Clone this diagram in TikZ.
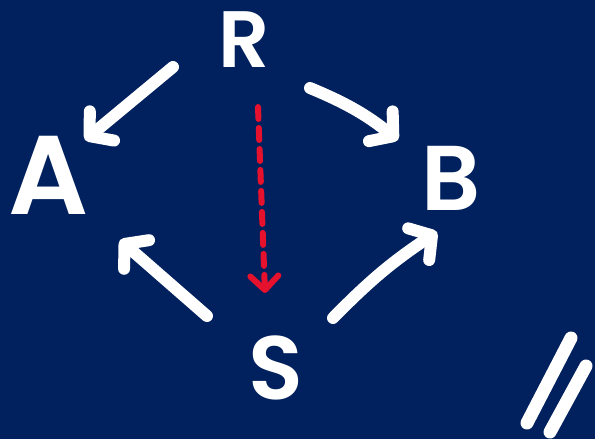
\documentclass[tikz,border=0pt]{standalone}
\usepackage{fontspec}
\setmainfont{Poppins}[BoldFont={* SemiBold}]
\usetikzlibrary{arrows.meta}
\definecolor{navy}{HTML}{01205E}
\definecolor{marker}{HTML}{E5112D}
\begin{document}
\begin{tikzpicture}[x=1pt,y=-1pt,
  lbl/.style={text=white,inner sep=0pt,font=\bfseries\fontsize{#1}{#1}\selectfont},
  wline/.style={draw=white,line width=12pt,line cap=round,line join=round},
  warrow/.style={wline,-{Straight Barb[length=16pt,width=38pt,line cap=round,line join=round]}},
  rarrow/.style={draw=marker,line width=6pt,line cap=round,line join=round,
    dash pattern=on 12pt off 9pt,
    -{Straight Barb[length=14pt,width=28pt,line cap=round,line join=round]}}]
\fill[navy] (0,0) rectangle (595,439);
\useasboundingbox (0,0) rectangle (595,439);
% letters
\node[lbl=80] (R) at (244,40) {R};
\node[lbl=112] (A) at (49,175) {A};
\node[lbl=92] (B) at (451,178) {B};
\node[lbl=90] (S) at (276,368) {S};
% connector ends
\coordinate (ra0) at (173,67);  \coordinate (ra1) at (85,140);
\coordinate (rb0) at (310,88);  \coordinate (rb1) at (398,140);
\coordinate (sa0) at (207,316); \coordinate (sa1) at (120,240);
\coordinate (sb0) at (333,318); \coordinate (sb1) at (437,232);
\coordinate (rs0) at (258,107); \coordinate (rs1) at (265,293);
\draw[warrow] (ra0) -- (ra1);
\draw[warrow] (rb0) to[bend left=8] (rb1);
\draw[warrow] (sa0) -- (sa1);
\draw[warrow] (sb0) to[bend left=6] (sb1);
\draw[rarrow] (rs0) -- (rs1);
% equals-like slashes
\coordinate (p1) at (571,338); \coordinate (p2) at (527,423);
\coordinate (q1) at (586,366); \coordinate (q2) at (550,432);
\draw[wline,line width=13pt] (p1) -- (p2);
\draw[wline,line width=13pt] (q1) -- (q2);
\end{tikzpicture}
\end{document}
